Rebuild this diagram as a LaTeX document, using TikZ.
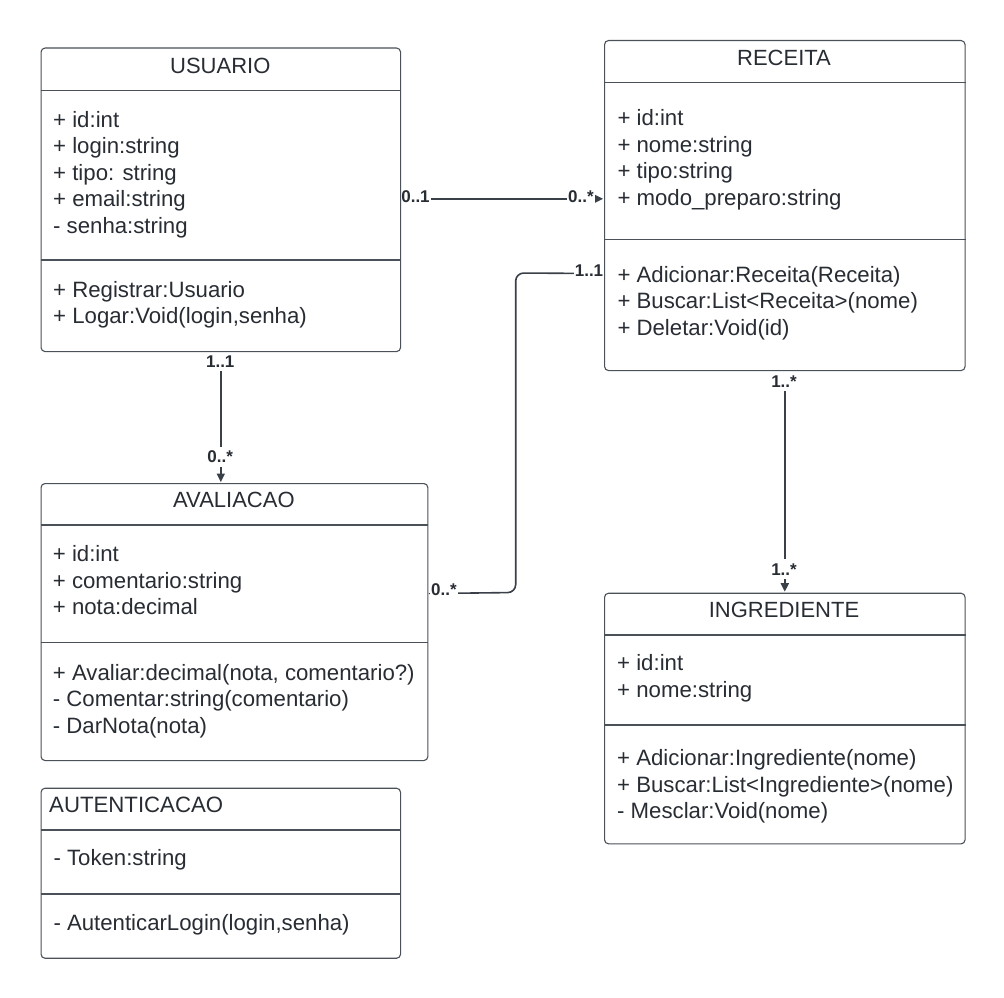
\documentclass[tikz,border=0pt]{standalone}
\usepackage{fontspec}
\setmainfont{Liberation Sans}
\usetikzlibrary{arrows.meta,backgrounds}
\definecolor{txtc}{HTML}{282C33}
\definecolor{boxc}{HTML}{4B5159}
\definecolor{conc}{HTML}{3A4048}
\tikzset{
  cls/.style={draw=boxc, line width=1.1pt, rounded corners=4pt, inner sep=0pt},
  divline/.style={draw=boxc, line width=1.1pt},
  txt/.style={anchor=base west, inner sep=0pt, text=txtc, font=\fontsize{22.2}{26}\selectfont},
  ttl/.style={anchor=base, inner sep=0pt, text=txtc, font=\fontsize{22}{26}\selectfont},
  conn/.style={draw=conc, line width=1.6pt},
  mult/.style={anchor=base, fill=white, inner xsep=1.2pt, inner ysep=4pt, text=txtc, font=\fontsize{17}{19}\selectfont\bfseries}
}
\begin{document}
\begin{tikzpicture}[x=1pt,y=-1pt]
\useasboundingbox (0,0) rectangle (1004,998);
% class boxes
\node[cls, minimum width=359.5pt, minimum height=303.5pt, anchor=north west] (usuario) at (40.5,47.5) {};
\node[cls, minimum width=360.5pt, minimum height=330pt, anchor=north west] (receita) at (604,40) {};
\node[cls, minimum width=386.8pt, minimum height=277pt, anchor=north west] (avaliacao) at (40.5,483) {};
\node[cls, minimum width=360.5pt, minimum height=250.6pt, anchor=north west] (ingrediente) at (604,592.7) {};
\node[cls, minimum width=359.5pt, minimum height=170pt, anchor=north west] (autent) at (40.5,787.7) {};
% dividers
\draw[divline] ([yshift=-43.2pt]usuario.north west) -- ([yshift=-43.2pt]usuario.north east);
\draw[divline] ([yshift=-212.5pt]usuario.north west) -- ([yshift=-212.5pt]usuario.north east);
\draw[divline] ([yshift=-42.3pt]receita.north west) -- ([yshift=-42.3pt]receita.north east);
\draw[divline] ([yshift=-199.3pt]receita.north west) -- ([yshift=-199.3pt]receita.north east);
\draw[divline] ([yshift=-42pt]avaliacao.north west) -- ([yshift=-42pt]avaliacao.north east);
\draw[divline] ([yshift=-159.3pt]avaliacao.north west) -- ([yshift=-159.3pt]avaliacao.north east);
\draw[divline] ([yshift=-42.3pt]ingrediente.north west) -- ([yshift=-42.3pt]ingrediente.north east);
\draw[divline] ([yshift=-132.3pt]ingrediente.north west) -- ([yshift=-132.3pt]ingrediente.north east);
\draw[divline] ([yshift=-42.3pt]autent.north west) -- ([yshift=-42.3pt]autent.north east);
\draw[divline] ([yshift=-106.3pt]autent.north west) -- ([yshift=-106.3pt]autent.north east);
% USUARIO text
\node[ttl] (ut) at (220.25,73.3) {USUARIO};
\node[txt] (u1) at (53,127.3) {+ id:int};
\node[txt] (u2) at (53,153.8) {+ login:string};
\node[txt] (u3) at (53,180.3) {+ tipo: string};
\node[txt] (u4) at (53,206.8) {+ email:string};
\node[txt] (u5) at (53,233.3) {- senha:string};
\node[txt] (u6) at (53,297.3) {+ Registrar:Usuario};
\node[txt] (u7) at (53,323.8) {+ Logar:Void(login,senha)};
% RECEITA text
\node[ttl] (rt) at (784,65.7) {RECEITA};
\node[txt] (r1) at (617.3,125.7) {+ id:int};
\node[txt] (r2) at (617.3,152.2) {+ nome:string};
\node[txt] (r3) at (617.3,178.7) {+ tipo:string};
\node[txt] (r4) at (617.3,205.2) {+ modo\_preparo:string};
\node[txt] (r5) at (617.3,282.3) {+ Adicionar:Receita(Receita)};
\node[txt] (r6) at (617.3,308.8) {+ Buscar:List<Receita>(nome)};
\node[txt] (r7) at (617.3,335.3) {+ Deletar:Void(id)};
% AVALIACAO text
\node[ttl] (at) at (233.9,507.3) {AVALIACAO};
\node[txt] (a1) at (52.7,561.7) {+ id:int};
\node[txt] (a2) at (52.7,588.2) {+ comentario:string};
\node[txt] (a3) at (52.7,614.7) {+ nota:decimal};
\node[txt] (a4) at (52.7,680) {+ Avaliar:decimal(nota, comentario?)};
\node[txt] (a5) at (52.7,706.5) {- Comentar:string(comentario)};
\node[txt] (a6) at (52.7,733) {- DarNota(nota)};
% INGREDIENTE text
\node[ttl] (it) at (784,617.3) {INGREDIENTE};
\node[txt] (i1) at (617,670.7) {+ id:int};
\node[txt] (i2) at (617,697.2) {+ nome:string};
\node[txt] (i3) at (617,765.7) {+ Adicionar:Ingrediente(nome)};
\node[txt] (i4) at (617,792.2) {+ Buscar:List<Ingrediente>(nome)};
\node[txt] (i5) at (617,818.7) {- Mesclar:Void(nome)};
% AUTENTICACAO text
\node[txt] (ct) at (49,812.3) {AUTENTICACAO};
\node[txt] (c1) at (53.3,865.7) {- Token:string};
\node[txt] (c2) at (53.3,930) {- AutenticarLogin(login,senha)};
% connectors
\begin{scope}[on background layer]
\fill[white] (0,0) rectangle (1004,998);
\draw[conn, -{Triangle[length=8.5pt,width=8pt]}, shorten >=1pt] ([yshift=1pt]usuario.east) -- ([yshift=1pt]receita.west |- usuario.east);
\draw[conn, -{Triangle[length=8.5pt,width=8pt]}, shorten >=1pt] (usuario.south) -- (avaliacao.north -| usuario.south);
\draw[conn, {Triangle[length=8.5pt,width=8pt]}-, rounded corners=8pt] ([yshift=28.5pt]avaliacao.east) -- (515.7,592.5) -- (515.7,273) -- ([yshift=-68pt]receita.west);
\draw[conn, -{Triangle[length=8.5pt,width=8pt]}, shorten >=1pt] (receita.south) -- (ingrediente.north);
\node[mult] (m1) at (415.5,202.3) {0..1};
\node[mult] (m2) at (581,202.3) {0..*};
\node[mult] (m3) at (220.25,367) {1..1};
\node[mult] (m4) at (220.25,462.7) {0..*};
\node[mult] (m5) at (444,595) {0..*};
\node[mult] (m6) at (589,276.7) {1..1};
\node[mult] (m7) at (784,387) {1..*};
\node[mult] (m8) at (784,575) {1..*};
\end{scope}
\end{tikzpicture}
\end{document}
